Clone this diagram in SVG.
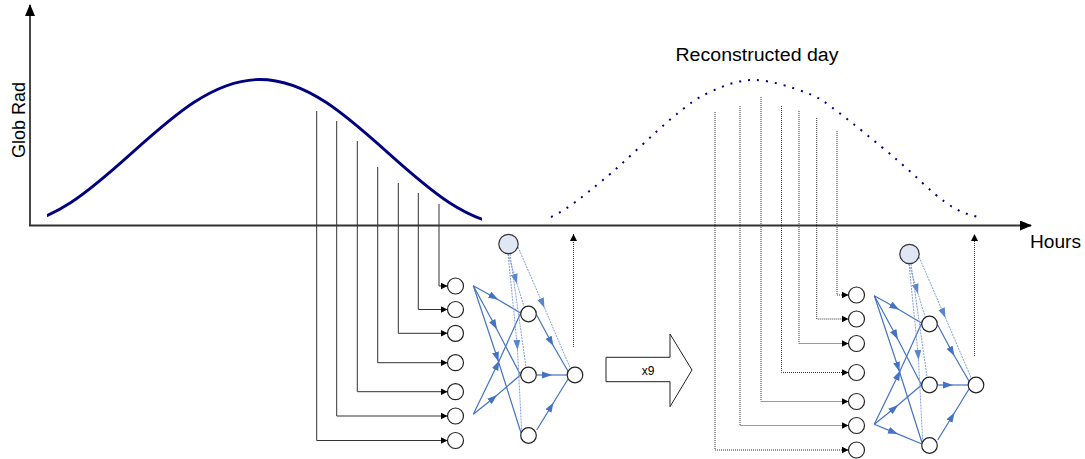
<svg xmlns="http://www.w3.org/2000/svg" width="1085" height="459" viewBox="0 0 1085 459">
<style>
.ax{stroke:#333;stroke-width:1.8;fill:none}
.conn{stroke:#333;stroke-width:1;fill:none;marker-end:url(#ah)}
.dconn{stroke:#333;stroke-width:1;stroke-dasharray:1 1;fill:none;marker-end:url(#ah)}
.up{stroke:#333;stroke-width:1;stroke-dasharray:1 1;fill:none;marker-end:url(#ah)}
.nd{fill:#fff;stroke:#222;stroke-width:1.2}
.bias{fill:#dfe7f4;stroke:#333;stroke-width:1.2}
.w{stroke:#4472c4;stroke-width:1.2;fill:none;marker-mid:url(#bh)}
.wb{stroke:#7f9fd6;stroke-width:1;stroke-dasharray:2 1;fill:none;marker-mid:url(#bhl)}
.t{font-family:"Liberation Sans",Arial,sans-serif;fill:#000}
</style>
<defs>
<marker id="ah" markerWidth="7" markerHeight="8" refX="7" refY="4" orient="auto" markerUnits="userSpaceOnUse"><path d="M0,0.5 L7,4 L0,7.5 z" fill="#000"/></marker>
<marker id="axh" markerWidth="12" markerHeight="10" refX="11" refY="5" orient="auto" markerUnits="userSpaceOnUse"><path d="M0,0 L12,5 L0,10 z" fill="#000"/></marker>
<marker id="bh" markerWidth="10" markerHeight="8" refX="5" refY="4" orient="auto" markerUnits="userSpaceOnUse"><path d="M0,0.5 L10,4 L0,7.5 z" fill="#4472c4"/></marker>
<marker id="bhl" markerWidth="10" markerHeight="8" refX="5" refY="4" orient="auto" markerUnits="userSpaceOnUse"><path d="M0,0.5 L10,4 L0,7.5 z" fill="#5b85cc"/></marker>
<clipPath id="dayclip"><rect x="47" y="60" width="435" height="170"/></clipPath>
</defs>

<g id="axes">
<line class="ax" x1="30" y1="226" x2="30" y2="5" marker-end="url(#axh)"/>
<line class="ax" x1="29" y1="225.5" x2="1031" y2="225.5" marker-end="url(#axh)"/>
</g>

<g id="labels">
<text class="t" transform="translate(25,120) rotate(-90)" text-anchor="middle" font-size="18">Glob Rad</text>
<text class="t" x="757" y="61" font-size="18" text-anchor="middle" textLength="163" lengthAdjust="spacingAndGlyphs">Reconstructed day</text>
<text class="t" x="1030" y="248" font-size="18" textLength="51" lengthAdjust="spacingAndGlyphs">Hours</text>
</g>

<g id="day-curve">
<path clip-path="url(#dayclip)" d="M5,225.3 C97.7,225.3 167.3,79.5 260,79.5 C352.7,79.5 422.3,225.3 515,225.3" fill="none" stroke="#000080" stroke-width="2.8"/>
</g>

<g id="reconstructed-curve">
<path d="M551,217 C568,209 582.8,196.5 603,180 C623.2,163.5 654.2,132.7 672,118 C689.8,103.3 696.3,98.3 710,92 C723.7,85.7 737.8,80 754,80 C770.2,80 793,87.7 807,93 C821,98.3 823.2,101 838,112 C852.8,123 878.2,144 896,159 C913.8,174 931.3,192.3 945,202 C958.7,211.7 966,214 978,217" fill="none" stroke="#000080" stroke-width="2" stroke-dasharray="2 7"/>
</g>

<g id="connectors">
<g id="conn-left">
<path class="conn" d="M316.7,111 V440.5 H447.5"/>
<path class="conn" d="M336.7,121 V416 H447.5"/>
<path class="conn" d="M357.3,141 V391.7 H447.5"/>
<path class="conn" d="M377.7,167 V362.7 H447.5"/>
<path class="conn" d="M398.3,183 V333.3 H447.5"/>
<path class="conn" d="M418.3,193 V309.5 H447.5"/>
<path class="conn" d="M439,204 V286 H447.5"/>
</g>
<g id="conn-right">
<path class="dconn" d="M715,112 V450 H848.5"/>
<path class="dconn" d="M740,106 V425.5 H848.5"/>
<path class="dconn" d="M761,97 V401.5 H848.5"/>
<path class="dconn" d="M781.5,106 V372.5 H848.5"/>
<path class="dconn" d="M799,111 V343.5 H848.5"/>
<path class="dconn" d="M816.7,118 V319 H848.5"/>
<path class="dconn" d="M837,131 V295 H848.5"/>
</g>
<g id="edges-left">
<path class="w" d="M473.3,285.7 L494,297.2 L520.5,313"/>
<path class="w" d="M473.3,285.7 L494.6,325 L520.5,375"/>
<path class="w" d="M473.3,285.7 L497,357 L521.7,435"/>
<path class="w" d="M473.3,414.3 L497.2,365 L520.5,313.5"/>
<path class="w" d="M473.3,414.3 L493.3,398.2 L520.5,375"/>
<path class="w" d="M536.7,315 L551,341.7 L568.5,372"/>
<path class="w" d="M537,375 L547,375 L567,375"/>
<path class="w" d="M536.7,430 L551,406.7 L568.5,378.3"/>
<path class="wb" d="M508,254 L515.6,279 L524,306.5"/>
<path class="wb" d="M508,254 L517.2,345 L521.7,431.7"/>
<path class="wb" d="M510,254 L526,367"/>
<path class="wb" d="M518,247 L542.5,303.3 L571.5,371"/>
<path class="up" d="M573.5,347 V234"/>
</g>
<g id="edges-right" transform="translate(401,10)">
<path class="w" d="M473.3,285.7 L494,297.2 L520.5,313"/>
<path class="w" d="M473.3,285.7 L494.6,325 L520.5,375"/>
<path class="w" d="M473.3,285.7 L497,357 L521.7,435"/>
<path class="w" d="M473.3,414.3 L497.2,365 L520.5,313.5"/>
<path class="w" d="M473.3,414.3 L493.3,398.2 L520.5,375"/>
<path class="w" d="M473.3,414.3 L492.3,422.1 L521,434"/>
<path class="w" d="M536.7,315 L551,341.7 L568.5,372"/>
<path class="w" d="M537,375 L547,375 L567,375"/>
<path class="w" d="M536.7,430 L551,406.7 L568.5,378.3"/>
<path class="wb" d="M508,254 L515.6,279 L524,306.5"/>
<path class="wb" d="M508,254 L517.2,345 L521.7,431.7"/>
<path class="wb" d="M510,254 L526,367"/>
<path class="wb" d="M518,247 L542.5,303.3 L571.5,371"/>
<path class="up" d="M573.5,346 V224"/>
</g>
</g>

<g id="nodes-left">
<g id="in-l-1"><circle class="nd" cx="455.5" cy="286" r="8"/></g>
<g id="in-l-2"><circle class="nd" cx="455.5" cy="309.5" r="8"/></g>
<g id="in-l-3"><circle class="nd" cx="455.5" cy="333.3" r="8"/></g>
<g id="in-l-4"><circle class="nd" cx="455.5" cy="362.7" r="8"/></g>
<g id="in-l-5"><circle class="nd" cx="455.5" cy="391.7" r="8"/></g>
<g id="in-l-6"><circle class="nd" cx="455.5" cy="416" r="8"/></g>
<g id="in-l-7"><circle class="nd" cx="455.5" cy="440.5" r="8"/></g>
<g id="bias-l"><circle class="bias" cx="508.5" cy="244" r="9.7"/></g>
<g id="hid-l-1"><circle class="nd" cx="528.5" cy="314" r="7.8"/></g>
<g id="hid-l-2"><circle class="nd" cx="528.5" cy="375" r="7.8"/></g>
<g id="hid-l-3"><circle class="nd" cx="528.5" cy="435.5" r="7.8"/></g>
<g id="out-l"><circle class="nd" cx="575" cy="375" r="7.8"/></g>
</g>

<g id="nodes-right">
<g id="in-r-1"><circle class="nd" cx="856.5" cy="295" r="8"/></g>
<g id="in-r-2"><circle class="nd" cx="856.5" cy="319" r="8"/></g>
<g id="in-r-3"><circle class="nd" cx="856.5" cy="343.5" r="8"/></g>
<g id="in-r-4"><circle class="nd" cx="856.5" cy="372.5" r="8"/></g>
<g id="in-r-5"><circle class="nd" cx="856.5" cy="401.5" r="8"/></g>
<g id="in-r-6"><circle class="nd" cx="856.5" cy="425.5" r="8"/></g>
<g id="in-r-7"><circle class="nd" cx="856.5" cy="450" r="8"/></g>
<g id="bias-r"><circle class="bias" cx="909.5" cy="254" r="9.7"/></g>
<g id="hid-r-1"><circle class="nd" cx="929.5" cy="324" r="7.8"/></g>
<g id="hid-r-2"><circle class="nd" cx="929.5" cy="385" r="7.8"/></g>
<g id="hid-r-3"><circle class="nd" cx="929.5" cy="445.5" r="7.8"/></g>
<g id="out-r"><circle class="nd" cx="976" cy="385" r="7.8"/></g>
</g>

<g id="x9-arrow">
<polygon points="606,357.3 670,357.3 670,334 692,370 670,406.7 670,381.7 606,381.7" fill="#fff" stroke="#222" stroke-width="1"/>
<text class="t" x="648" y="375" font-size="12" text-anchor="middle">x9</text>
</g>
</svg>
